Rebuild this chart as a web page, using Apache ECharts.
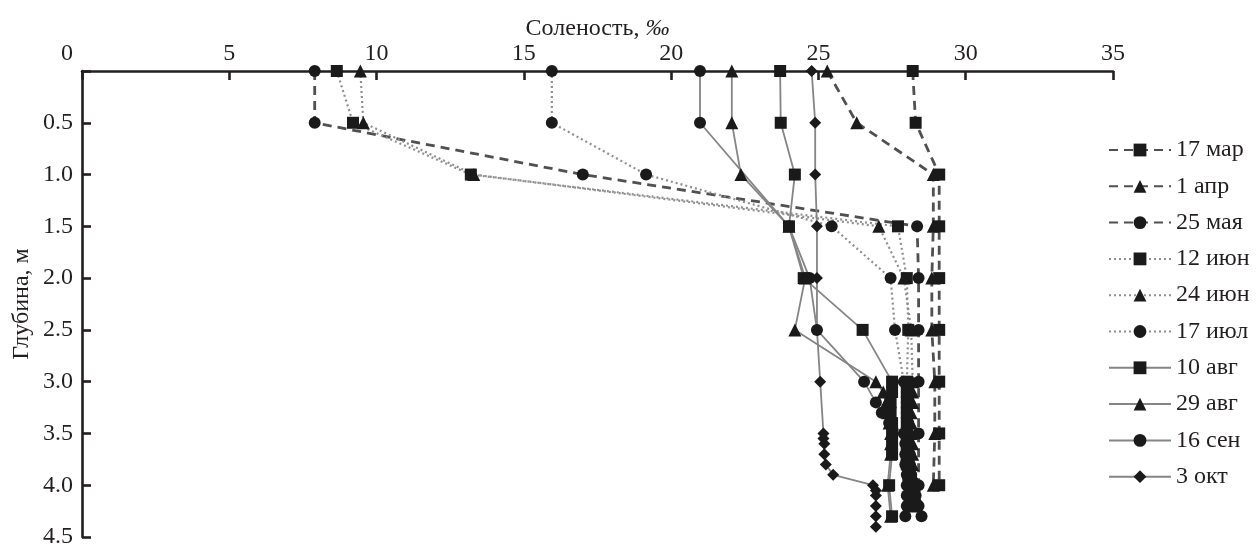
<!DOCTYPE html>
<html>
<head>
<meta charset="utf-8">
<script src="https://cdn.jsdelivr.net/npm/echarts@6/dist/echarts.min.js"></script>
<style>
  html, body { margin: 0; padding: 0; background: #ffffff; }
  #chart { width: 1259px; height: 545px; }
</style>
</head>
<body>
<div id="chart"></div>
<script>
// Salinity profiles (‰) by depth (m), one survey date per series
const surveyDates = ['17 мар', '1 апр', '25 мая', '12 июн', '24 июн', '17 июл', '10 авг', '29 авг', '16 сен', '3 окт'];
const xTicks = [0, 5, 10, 15, 20, 25, 30, 35];

const depthSpring = [0, 0.5, 1.0, 1.5, 2.0, 2.5, 3.0, 3.5, 4.0];
const sal17Mar = [28.2, 28.3, 29.1, 29.1, 29.1, 29.1, 29.1, 29.1, 29.1];
const sal1Apr = [25.3, 26.3, 28.9, 28.9, 28.85, 28.85, 28.95, 28.95, 28.9];
const sal25May = [7.9, 7.9, 17.0, 28.35, 28.4, 28.4, 28.4, 28.4, 28.4];

const depthJune = [0, 0.5, 1.0, 1.5, 2.0, 2.5, 3.0, 3.1, 3.2, 3.3, 3.4, 3.5, 3.6, 3.7, 3.8, 3.9, 4.0, 4.1, 4.2];
const sal12Jun = [8.65, 9.2, 13.2, 27.7, 28.0, 28.05, 28.0, 28.0, 28.0, 28.0, 28.0, 28.0, 28.0, 28.0, 28.0, 28.05, 28.1, 28.1, 28.1];
const sal24Jun = [9.45, 9.55, 13.3, 27.05, 27.9, 28.15, 28.2, 28.2, 28.2, 28.15, 28.15, 28.15, 28.2, 28.2, 28.2, 28.2, 28.25, 28.3, 28.3];

const depthJuly = [0, 0.5, 1.0, 1.5, 2.0, 2.5, 3.0, 3.1, 3.2, 3.3, 3.4, 3.5, 3.6, 3.7, 3.8, 3.9, 4.0, 4.1, 4.2, 4.3];
const sal17Jul = [15.95, 15.95, 19.15, 25.45, 27.45, 27.6, 27.9, 28.0, 28.0, 28.0, 28.05, 28.05, 28.05, 28.1, 28.1, 28.15, 28.2, 28.3, 28.4, 28.5];

const depthAug = [0, 0.5, 1.0, 1.5, 2.0, 2.5, 3.0, 3.1, 3.2, 3.3, 3.4, 3.5, 3.6, 3.7, 4.0, 4.3];
const sal10Aug = [23.7, 23.72, 24.2, 24.0, 24.5, 26.5, 27.5, 27.5, 27.45, 27.45, 27.5, 27.5, 27.5, 27.5, 27.4, 27.5];
const sal29Aug = [22.06, 22.06, 22.37, 24.0, 24.55, 24.2, 26.95, 27.2, 27.3, 27.35, 27.4, 27.45, 27.45, 27.45, 27.35, 27.45];

const depthSep = [0, 0.5, 1.5, 2.0, 2.5, 3.0, 3.2, 3.3, 3.4, 3.5, 3.6, 3.7, 3.8, 3.9, 4.0, 4.1, 4.2, 4.3];
const sal16Sep = [20.98, 20.98, 24.0, 24.7, 24.95, 26.55, 26.95, 27.15, 27.4, 27.9, 27.95, 27.95, 27.95, 28.0, 28.0, 28.0, 28.0, 27.95];

const depthOct = [0, 0.5, 1.0, 1.5, 2.0, 2.5, 3.0, 3.5, 3.55, 3.6, 3.7, 3.8, 3.9, 4.0, 4.05, 4.1, 4.2, 4.3, 4.4];
const sal3Oct = [24.77, 24.89, 24.89, 24.95, 24.95, 24.95, 25.06, 25.17, 25.17, 25.2, 25.2, 25.25, 25.5, 26.85, 26.95, 26.95, 26.95, 26.95, 26.95];

const INK = '#231f20';
const FONT = '"Liberation Serif", "DejaVu Serif", serif';

const dashedLine = { color: '#505050', width: 2.8, type: [9, 6] };
const dottedLine = { color: '#8f8f8f', width: 2.2, type: [2, 3] };
const solidLine = { color: '#858585', width: 1.8, type: 'solid' };

function profile(name, depths, values, symbol, size, line) {
  return {
    name: name,
    type: 'line',
    data: depths.map((d, i) => [values[i], d]),
    symbol: symbol,
    symbolSize: size,
    showAllSymbol: true,
    lineStyle: line,
    itemStyle: { color: '#1a1a1a', borderWidth: 0 },
    emphasis: { disabled: true },
    z: 2
  };
}

const series = [
  profile(surveyDates[0], depthSpring, sal17Mar, 'rect', 12, dashedLine),
  profile(surveyDates[1], depthSpring, sal1Apr, 'triangle', 13, dashedLine),
  profile(surveyDates[2], depthSpring, sal25May, 'circle', 12, dashedLine),
  profile(surveyDates[3], depthJune, sal12Jun, 'rect', 12, dottedLine),
  profile(surveyDates[4], depthJune, sal24Jun, 'triangle', 13, dottedLine),
  profile(surveyDates[5], depthJuly, sal17Jul, 'circle', 12, dottedLine),
  profile(surveyDates[6], depthAug, sal10Aug, 'rect', 12, solidLine),
  profile(surveyDates[7], depthAug, sal29Aug, 'triangle', 13, solidLine),
  profile(surveyDates[8], depthSep, sal16Sep, 'circle', 12, solidLine),
  profile(surveyDates[9], depthOct, sal3Oct, 'diamond', 12, solidLine)
];

const axisInk = { color: INK, width: 2.6 };

const chart = echarts.init(document.getElementById('chart'), null, { renderer: 'canvas' });
chart.setOption({
  animation: false,
  backgroundColor: '#ffffff',
  grid: { left: 82, right: 146, top: 71, bottom: 8, containLabel: false, outerBoundsMode: 'none' },
  legend: {
    orient: 'vertical',
    left: 1108,
    top: 138,
    padding: 0,
    itemWidth: 62,
    itemHeight: 16,
    itemGap: 12.3,
    data: surveyDates,
    selectedMode: false,
    textStyle: { fontFamily: FONT, fontSize: 24, color: INK, lineHeight: 22 }
  },
  xAxis: {
    type: 'value',
    position: 'top',
    min: xTicks[0],
    max: xTicks[xTicks.length - 1],
    interval: 5,
    name: 'Соленость, {i|‰}',
    nameLocation: 'middle',
    nameGap: 30,
    nameMoveOverlap: false,
    nameTextStyle: {
      fontFamily: FONT, fontSize: 24, color: INK,
      rich: { i: { fontFamily: FONT, fontSize: 24, fontStyle: 'italic', color: INK } }
    },
    axisLine: { show: true, onZero: false, lineStyle: axisInk },
    axisTick: { show: true, inside: true, length: 9, lineStyle: axisInk },
    splitLine: { show: false },
    axisLabel: {
      fontFamily: FONT, fontSize: 24, color: INK, margin: 5,
      formatter: v => (v === 0 ? '{z|0}' : String(v)),
      rich: { z: { fontFamily: FONT, fontSize: 24, color: INK, padding: [0, 30, 0, 0] } }
    }
  },
  yAxis: {
    type: 'value',
    inverse: true,
    min: 0,
    max: 4.5,
    interval: 0.5,
    name: 'Глубина, м',
    nameLocation: 'middle',
    nameGap: 48,
    nameMoveOverlap: false,
    nameRotate: 90,
    nameTextStyle: { fontFamily: FONT, fontSize: 24, color: INK },
    axisLine: { show: true, onZero: false, lineStyle: axisInk },
    axisTick: { show: true, inside: true, length: 9, lineStyle: axisInk },
    splitLine: { show: false },
    axisLabel: {
      fontFamily: FONT, fontSize: 24, color: INK, margin: 9,
      formatter: v => (v === 0 ? '' : v.toFixed(1))
    }
  },
  series: series
});
</script>
</body>
</html>
